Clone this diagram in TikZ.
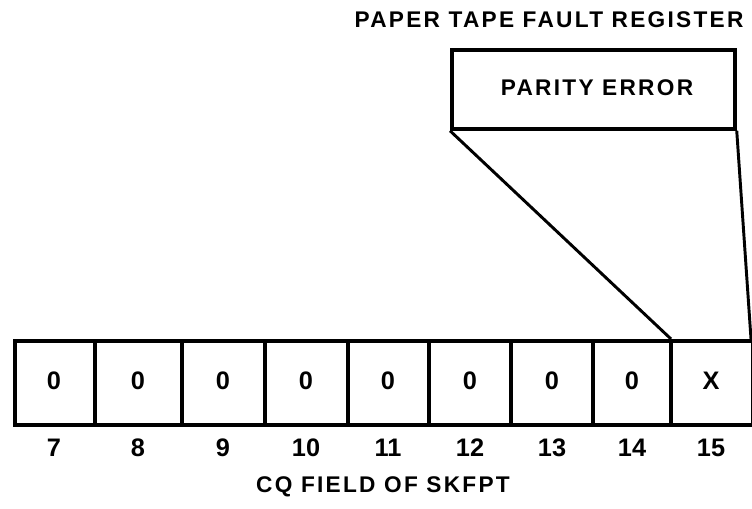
\documentclass[tikz,border=0pt]{standalone}
\usepackage{fontspec}
\setmainfont{Liberation Sans}
\newfontfamily\spacedfont{Liberation Sans}[LetterSpace=10]
\begin{document}
\begin{tikzpicture}[x=0.75pt,y=-0.75pt,
  lbl/.style={font=\fontsize{17}{19}\selectfont\spacedfont\bfseries, inner sep=0pt},
  num/.style={font=\fontsize{19}{21}\selectfont\bfseries, inner sep=0pt},
  thick frame/.style={line width=3pt},
  sep/.style={line width=2.8pt},
  conn/.style={line width=2.2pt}]
\useasboundingbox (0,0) rectangle (752,508);
% register bar
\node[draw, thick frame, minimum width=553.5pt, minimum height=63pt, inner sep=0pt, anchor=north west] (bar) at (13,339) {};
\foreach \x in {95,182,265,348,429,511,593,671}{
  \draw[sep] (\x,339) -- (\x,423);
}
\coordinate (s14) at (671,339);
\coordinate (re) at (751,339);
\foreach \cx/\v/\n in {54/0/7,138/0/8,223/0/9,306/0/10,388/0/11,470/0/12,552/0/13,632/0/14,711/X/15}{
  \node[num] (c\n) at (\cx,381) {\v};
  \node[num] (n\n) at (\cx,448) {\n};
}
\node[lbl] (cap) at (383,487) {CQ FIELD OF SKFPT};
% fault register
\node[lbl] (title) at (549,20) {PAPER TAPE FAULT REGISTER};
\node[draw, line width=2.8pt, minimum width=212.25pt, minimum height=59.25pt, inner sep=0pt, anchor=north west] (pe) at (450,48) {};
\node[lbl] (pet) at (597,88) {PARITY ERROR};
\draw[conn] (pe.south west) -- (s14);
\draw[conn] (pe.south east) -- (re);
\end{tikzpicture}
\end{document}
